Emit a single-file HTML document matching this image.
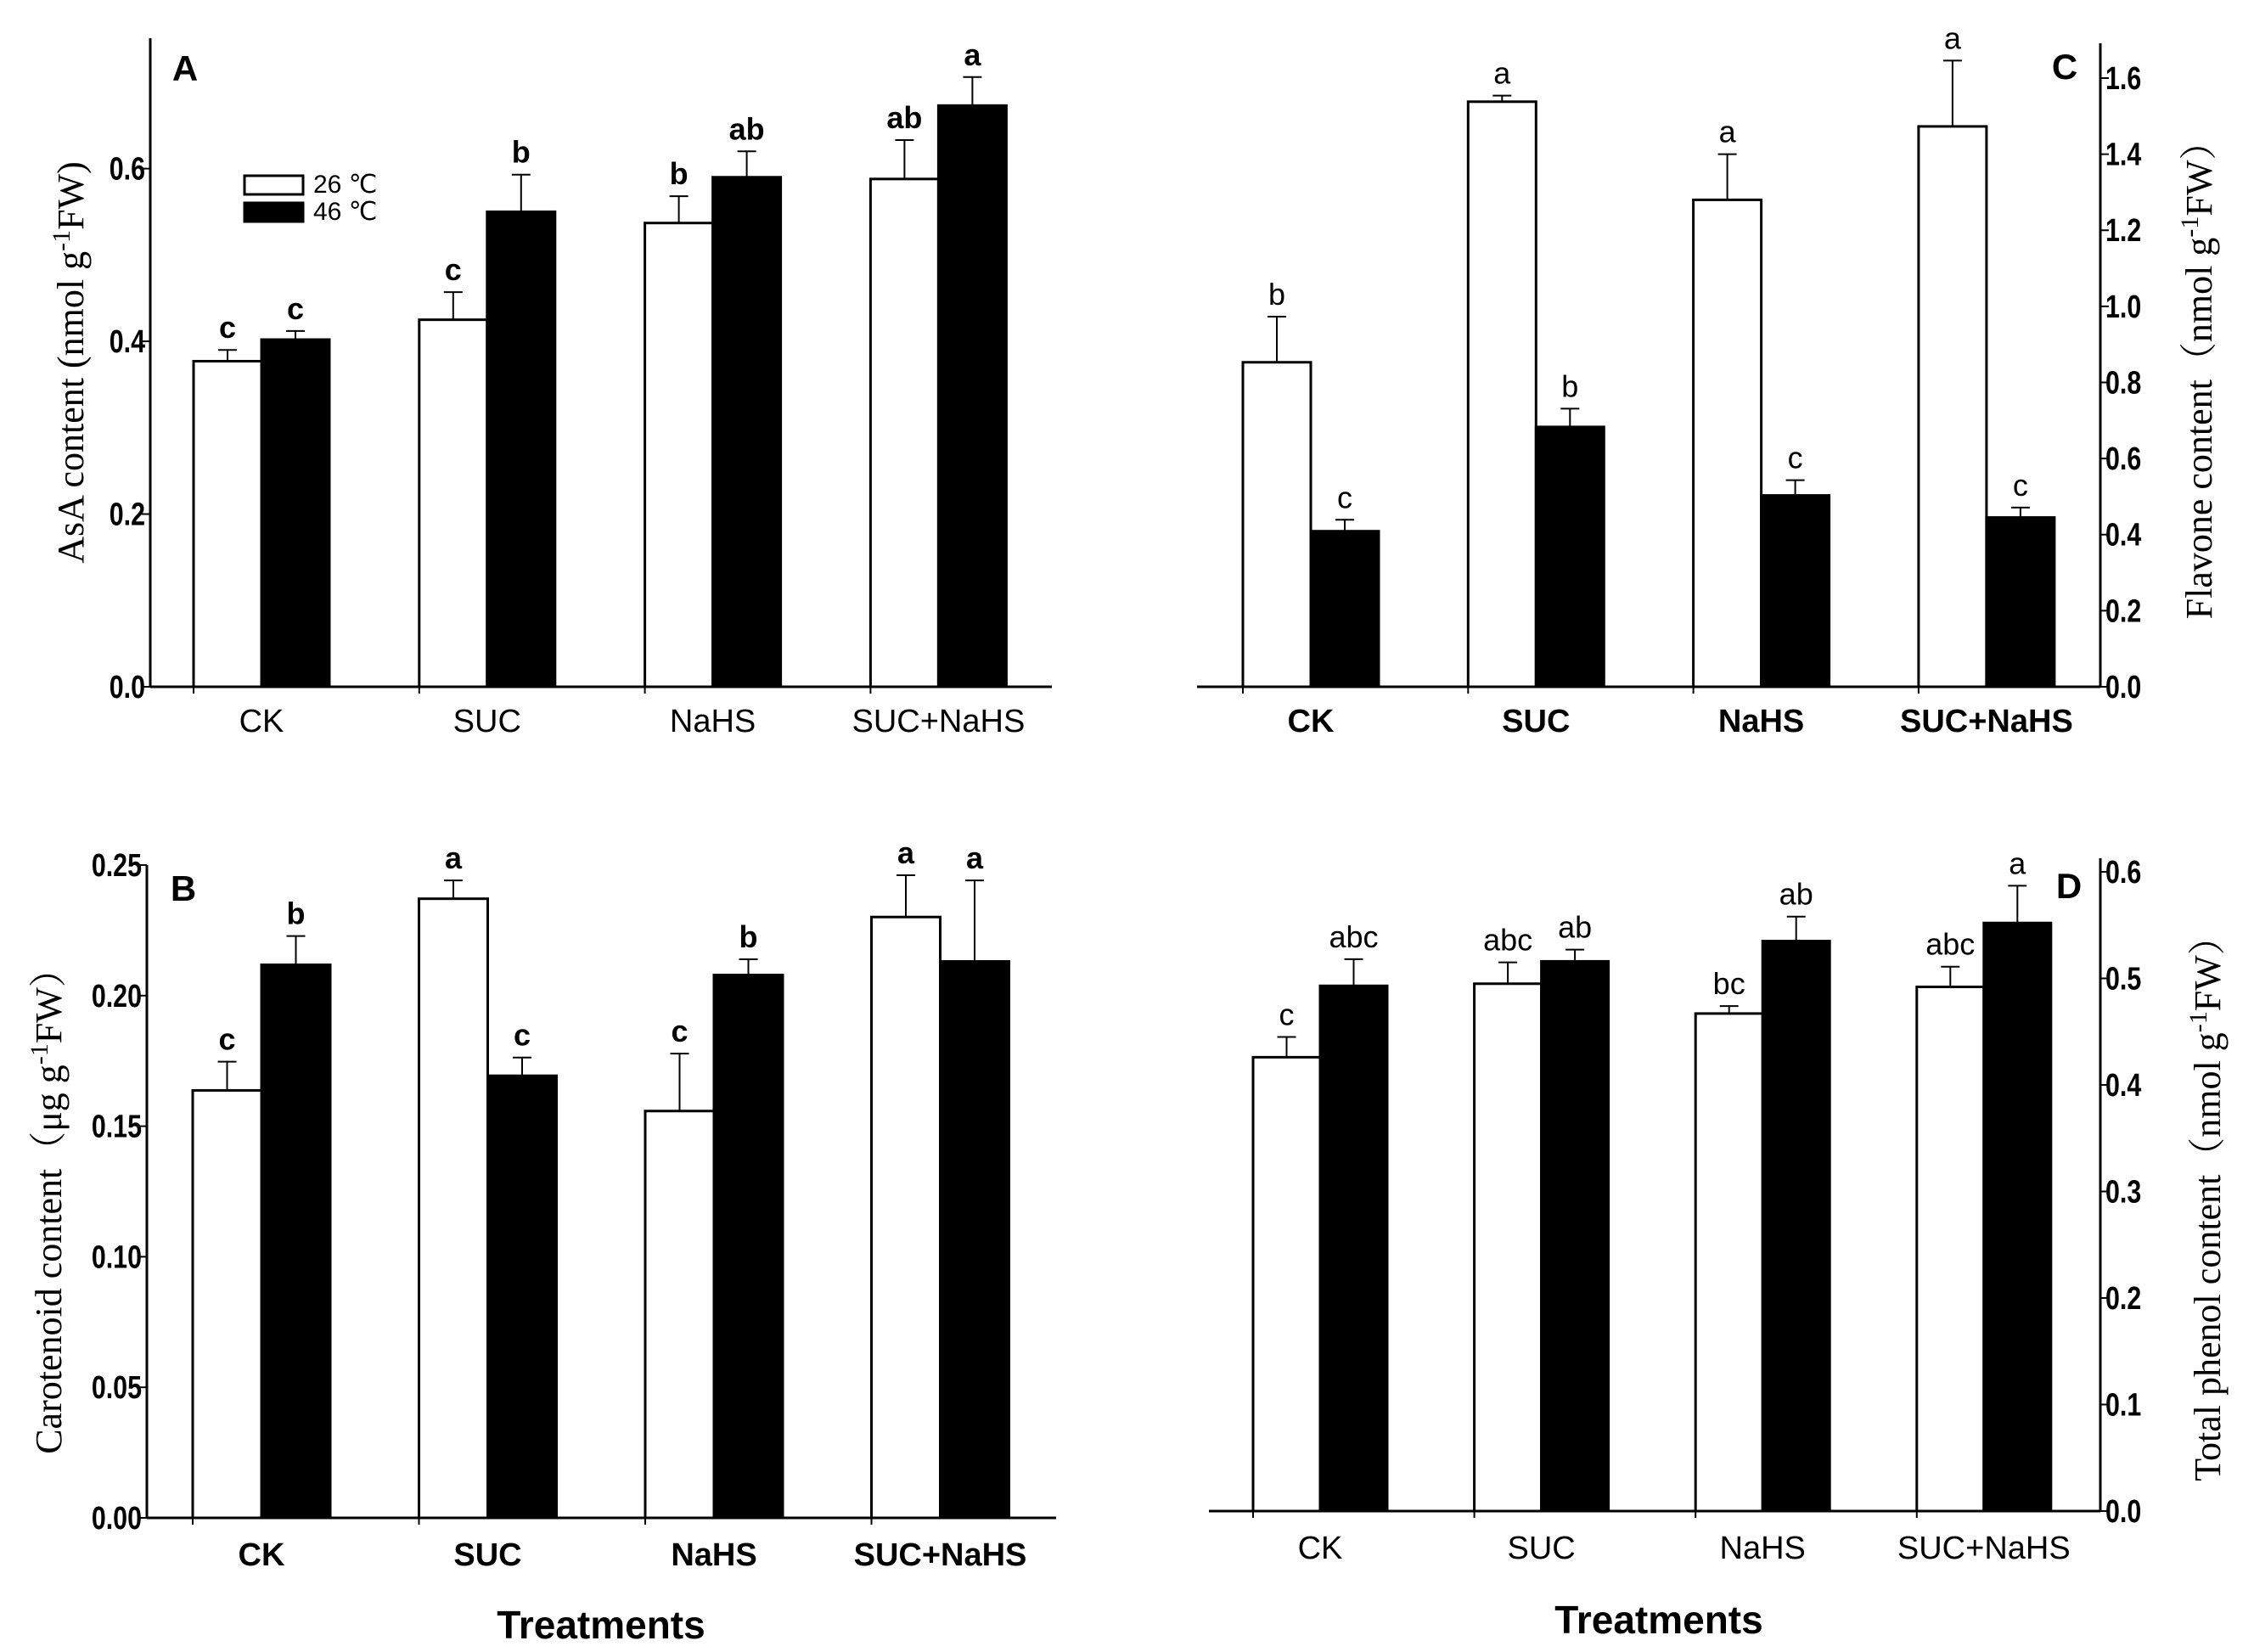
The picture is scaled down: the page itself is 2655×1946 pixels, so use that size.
<!DOCTYPE html>
<html><head><meta charset="utf-8"><style>
html,body{margin:0;padding:0;background:#fff;}
svg{display:block;}
text{font-family:"Liberation Sans",sans-serif;fill:#000;}
.serif{font-family:"Liberation Serif","Noto Serif CJK SC",serif;}
</style></head><body>
<svg id="fig" width="2655" height="1946" viewBox="0 0 2655 1946" xmlns="http://www.w3.org/2000/svg"></svg>
<script>
const categories = ["CK","SUC","NaHS","SUC+NaHS"];
const seriesNames = ["26 ℃","46 ℃"];
// Panel A: AsA
const aWhite = [0.377,0.425,0.537,0.588];
const aBlack = [0.402,0.550,0.590,0.673];
const aWhiteErr = [0.013,0.032,0.031,0.045];
const aBlackErr = [0.010,0.043,0.030,0.033];
const aWhiteLetters = ["c","c","b","ab"];
const aBlackLetters = ["c","b","ab","a"];
const aTicks = [0.0,0.2,0.4,0.6];
const aTickLabels = ["0.0","0.2","0.4","0.6"];
// Panel B: Carotenoid
const bWhite = [0.1637,0.2371,0.1558,0.2301];
const bBlack = [0.2118,0.1693,0.2079,0.2131];
const bWhiteErr = [0.011,0.007,0.022,0.016];
const bBlackErr = [0.011,0.007,0.006,0.031];
const bWhiteLetters = ["c","a","c","a"];
const bBlackLetters = ["b","c","b","a"];
const bTicks = [0,0.05,0.10,0.15,0.20,0.25];
const bTickLabels = ["0.00","0.05","0.10","0.15","0.20","0.25"];
// Panel C: Flavone
const cWhite = [0.853,1.538,1.280,1.473];
const cBlack = [0.409,0.683,0.503,0.445];
const cWhiteErr = [0.12,0.016,0.12,0.173];
const cBlackErr = [0.03,0.048,0.04,0.026];
const cWhiteLetters = ["b","a","a","a"];
const cBlackLetters = ["c","b","c","c"];
const cTicks = [0,0.2,0.4,0.6,0.8,1.0,1.2,1.4,1.6];
const cTickLabels = ["0.0","0.2","0.4","0.6","0.8","1.0","1.2","1.4","1.6"];
// Panel D: Total phenol
const dWhite = [0.426,0.495,0.467,0.492];
const dBlack = [0.493,0.516,0.535,0.552];
const dWhiteErr = [0.019,0.020,0.007,0.019];
const dBlackErr = [0.025,0.011,0.023,0.035];
const dWhiteLetters = ["c","abc","bc","abc"];
const dBlackLetters = ["abc","ab","ab","a"];
const dTicks = [0,0.1,0.2,0.3,0.4,0.5,0.6];
const dTickLabels = ["0.0","0.1","0.2","0.3","0.4","0.5","0.6"];

const NS="http://www.w3.org/2000/svg";
const svg=document.getElementById('fig');
function mk(tag,attrs,parent){const e=document.createElementNS(NS,tag);for(const k in attrs)e.setAttribute(k,attrs[k]);(parent||svg).appendChild(e);return e;}

function panel(cfg){
  const g=mk('g',{});
  
  
  const y=v=>cfg.y0-(v/cfg.vmax)*(cfg.y0-cfg.yTop);
  const grpX=i=>cfg.x0+i*cfg.step;
  const xa=mk('line',{x1:cfg.xl,x2:cfg.xr,y1:cfg.y0,y2:cfg.y0,stroke:'#000','stroke-width':3},g);
  
  
  const ya=mk('line',{x1:cfg.ax,x2:cfg.ax,y1:cfg.axTop,y2:cfg.y0,stroke:'#000','stroke-width':3},g);
  
  
  cfg.ticks.forEach((t,i)=>{
    const ty=y(t);
    const dir=cfg.right?1:-1;
    mk('line',{x1:cfg.ax,x2:cfg.ax+dir*10,y1:ty,y2:ty,stroke:'#000','stroke-width':2},g);
    const ax0=cfg.ax+dir*6;
    const tl=mk('text',{x:ax0,y:ty+13,'font-size':38,'font-weight':'600','text-anchor':cfg.right?'start':'end',transform:`translate(${ax0},0) scale(0.8,1) translate(${-ax0},0)`},g);
    tl.textContent=cfg.tickLabels[i];
    
    
  });
  categories.forEach((c,i)=>{
    const cx=grpX(i);
    mk('line',{x1:cx-cfg.bw,x2:cx-cfg.bw,y1:cfg.y0,y2:cfg.y0+8,stroke:'#000','stroke-width':2},g);
    const cl=mk('text',{x:cx,y:cfg.catY,'font-size':38,'text-anchor':'middle','font-weight':cfg.catBold?'bold':'normal'},g);
    cl.textContent=c;
    
    
    [[cfg.white,cfg.wErr,cfg.wL,'#fff',-1],[cfg.black,cfg.bErr,cfg.bL,'#000',0]].forEach(([vals,errs,lets,fill,off])=>{
      const v=vals[i], bx=cx+off*cfg.bw, top=y(v), et=y(v+errs[i]);
      const bar=mk('rect',{x:bx,y:top,width:cfg.bw,height:cfg.y0-top,fill:fill,stroke:'#000','stroke-width':3},g);
      
      
      const mx=bx+cfg.bw/2;
      mk('line',{x1:mx,x2:mx,y1:top,y2:et,stroke:'#000','stroke-width':2},g);
      mk('line',{x1:mx-11,x2:mx+11,y1:et,y2:et,stroke:'#000','stroke-width':2},g);
      const lt=mk('text',{x:mx,y:et-14,'font-size':36,'text-anchor':'middle','font-weight':cfg.letBold?'bold':'normal'},g);
      lt.textContent=lets[i];
      
      
    });
  });
  const pl=mk('text',{x:cfg.plX,y:cfg.plY,'font-size':42,'font-weight':'bold','text-anchor':'middle'},g);
  pl.textContent=cfg.letter;
  
  
  const yl=mk('text',{x:0,y:0,'font-size':44,'text-anchor':'middle',class:'serif',transform:`translate(${cfg.ylX},${cfg.ylY}) rotate(-90)`},g);
  yl.innerHTML=cfg.ylab;
  
  
  if(cfg.xlab){
    const xt=mk('text',{x:cfg.xlabX,y:cfg.xlabY,'font-size':46,'text-anchor':'middle','font-weight':'600'},g);
    xt.textContent='Treatments';
    
    
  }
}

panel({name:'panel-a',letter:'A',x0:308,step:265.8,bw:80,ax:177,axTop:45,xl:177,xr:1239,y0:809,yTop:45,vmax:0.751,
  white:aWhite,black:aBlack,wErr:aWhiteErr,bErr:aBlackErr,wL:aWhiteLetters,bL:aBlackLetters,ticks:aTicks,tickLabels:aTickLabels,
  catY:862,letBold:true,plX:218,plY:95,ylX:98,ylY:427,ylab:'AsA content (nmol g<tspan dy="-16" font-size="30">-1</tspan><tspan dy="16">FW)</tspan>'});
panel({name:'panel-b',letter:'B',x0:308,step:266.5,bw:81,ax:173,axTop:1019,xl:173,xr:1244,y0:1788,yTop:1019,vmax:0.25,
  white:bWhite,black:bBlack,wErr:bWhiteErr,bErr:bBlackErr,wL:bWhiteLetters,bL:bBlackLetters,ticks:bTicks,tickLabels:bTickLabels,
  catY:1844,catBold:true,letBold:true,plX:216,plY:1061,ylX:72,ylY:1416,ylab:'Carotenoid content（μg g<tspan dy="-16" font-size="30">-1</tspan><tspan dy="16">FW）</tspan>',
  xlab:true,xlabX:708,xlabY:1930});
panel({name:'panel-c',letter:'C',x0:1544,step:265.3,bw:80,right:true,ax:2474,axTop:51,xl:1410,xr:2474,y0:809,yTop:92,vmax:1.6,
  white:cWhite,black:cBlack,wErr:cWhiteErr,bErr:cBlackErr,wL:cWhiteLetters,bL:cBlackLetters,ticks:cTicks,tickLabels:cTickLabels,
  catY:862,catBold:true,plX:2432,plY:93,ylX:2605,ylY:437,ylab:'Flavone content（nmol g<tspan dy="-16" font-size="30">-1</tspan><tspan dy="16">FW）</tspan>'});
panel({name:'panel-d',letter:'D',x0:1555,step:260.6,bw:79,right:true,ax:2474,axTop:1011,xl:1424,xr:2474,y0:1780,yTop:1027,vmax:0.6,
  white:dWhite,black:dBlack,wErr:dWhiteErr,bErr:dBlackErr,wL:dWhiteLetters,bL:dBlackLetters,ticks:dTicks,tickLabels:dTickLabels,
  catY:1836,plX:2437,plY:1058,ylX:2615,ylY:1413,ylab:'Total phenol content（nmol g<tspan dy="-16" font-size="30">-1</tspan><tspan dy="16">FW）</tspan>',
  xlab:true,xlabX:1954,xlabY:1924});

const lg=mk('g',{});


[['#fff',207],['#000',239]].forEach(([f,yy],i)=>{
  const r=mk('rect',{x:288,y:yy,width:69,height:22,fill:f,stroke:'#000','stroke-width':3},lg);
  
  
  const t=mk('text',{x:369,y:yy+20,'font-size':30},lg);
  t.textContent=seriesNames[i];
  
  
});
</script>
</body></html>
